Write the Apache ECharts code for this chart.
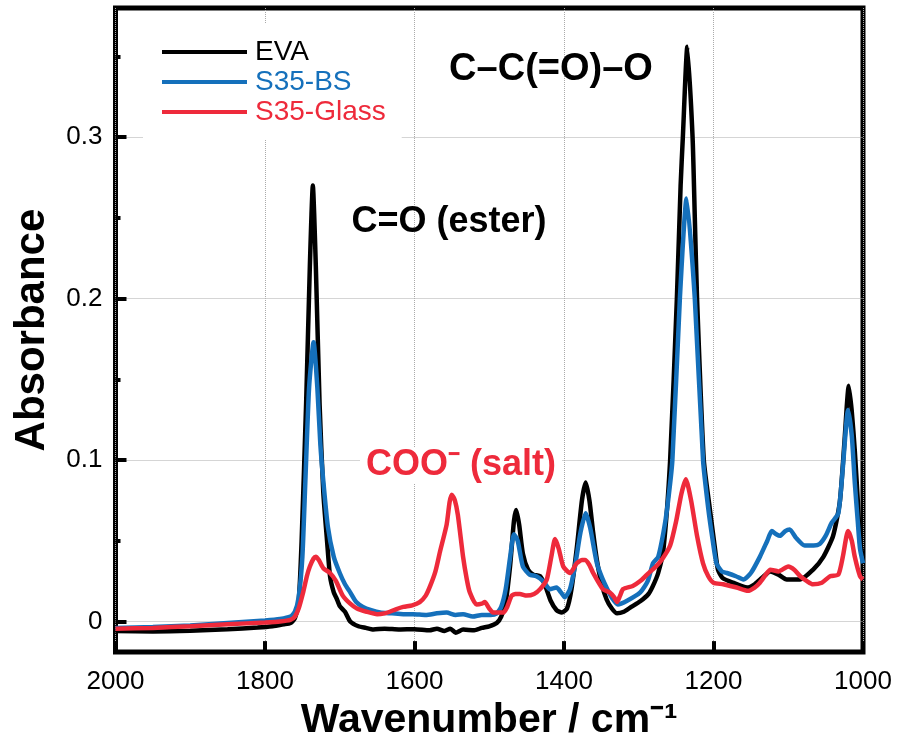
<!DOCTYPE html>
<html>
<head>
<meta charset="utf-8">
<script src="https://cdn.jsdelivr.net/npm/echarts@6/dist/echarts.min.js"></script>
<style>
  html, body { margin: 0; padding: 0; background: #fff; }
  #chart { width: 897px; height: 746px; }
</style>
</head>
<body>
<div id="chart"></div>
<script>
// FTIR spectra
const evaWn = [2000, 1950, 1900, 1850, 1810, 1790, 1775, 1766, 1760, 1755, 1751, 1745, 1740, 1736, 1732, 1727, 1722, 1717, 1713, 1708, 1704, 1700, 1693, 1686, 1675, 1665, 1655, 1640, 1620, 1600, 1580, 1570, 1560, 1552, 1545, 1535, 1520, 1510, 1500, 1490, 1484, 1478, 1472, 1467, 1464, 1460, 1455, 1448, 1441, 1432, 1425, 1418, 1410, 1403, 1396, 1390, 1383, 1376, 1371, 1366, 1361, 1356, 1350, 1343, 1336, 1329, 1320, 1310, 1298, 1287, 1281, 1274, 1267, 1258, 1249, 1244, 1241, 1235, 1228, 1225, 1222, 1213, 1205, 1198, 1194, 1188, 1174, 1155, 1145, 1135, 1124, 1113, 1102, 1084, 1067, 1053, 1040, 1031, 1025, 1019, 1015, 1011, 1007, 1004, 1000];
const evaAbs = [-0.006, -0.0062, -0.0058, -0.0048, -0.0038, -0.003, -0.0018, -0.001, 0.002, 0.012, 0.05, 0.135, 0.22, 0.270, 0.22, 0.135, 0.08, 0.05, 0.028, 0.018, 0.014, 0.0095, 0.006, 0.0, -0.003, -0.004, -0.005, -0.0045, -0.005, -0.0048, -0.0055, -0.0045, -0.006, -0.0045, -0.007, -0.005, -0.0055, -0.004, -0.003, -0.001, 0.003, 0.012, 0.035, 0.062, 0.069, 0.060, 0.042, 0.032, 0.029, 0.028, 0.022, 0.013, 0.007, 0.0055, 0.008, 0.02, 0.045, 0.075, 0.086, 0.075, 0.055, 0.038, 0.024, 0.0136, 0.008, 0.005, 0.006, 0.009, 0.0125, 0.017, 0.022, 0.030, 0.0445, 0.1, 0.2, 0.27, 0.3, 0.356, 0.3, 0.25, 0.2, 0.1, 0.07, 0.045, 0.032, 0.027, 0.024, 0.021, 0.023, 0.027, 0.031, 0.029, 0.026, 0.026, 0.032, 0.040, 0.053, 0.074, 0.11, 0.146, 0.13, 0.106, 0.075, 0.049, 0.04];

const bsWn = [2000, 1950, 1900, 1850, 1800, 1780, 1766, 1760, 1755, 1750, 1746, 1741, 1735, 1730, 1726, 1722, 1716, 1708, 1700, 1693, 1686, 1678, 1669, 1658, 1646, 1630, 1615, 1602, 1585, 1570, 1557, 1545, 1535, 1522, 1510, 1498, 1490, 1484, 1478, 1472, 1467, 1462, 1455, 1446, 1437, 1428, 1419, 1410, 1404, 1399, 1392, 1385, 1378, 1371, 1365, 1356, 1349, 1342, 1335, 1328, 1315, 1298, 1288, 1281, 1274, 1267, 1262, 1255, 1245, 1236, 1225, 1214, 1207, 1201, 1196, 1189, 1182, 1170, 1160, 1150, 1138, 1128, 1122, 1116, 1111, 1104, 1098, 1090, 1078, 1066, 1058, 1050, 1042, 1033, 1027, 1020, 1015, 1011, 1007, 1004, 1000];
const bsAbs = [-0.004, -0.0035, -0.0025, -0.001, 0.0006, 0.0015, 0.003, 0.006, 0.015, 0.04, 0.087, 0.145, 0.173, 0.145, 0.11, 0.087, 0.059, 0.04, 0.030, 0.023, 0.018, 0.012, 0.009, 0.007, 0.0055, 0.005, 0.0045, 0.0045, 0.004, 0.005, 0.0055, 0.004, 0.0045, 0.003, 0.004, 0.004, 0.005, 0.009, 0.02, 0.04, 0.054, 0.05, 0.034, 0.029, 0.028, 0.025, 0.020, 0.021, 0.018, 0.015, 0.02, 0.035, 0.055, 0.067, 0.058, 0.036, 0.027, 0.020, 0.014, 0.0105, 0.013, 0.018, 0.025, 0.036, 0.040, 0.055, 0.07, 0.1, 0.2, 0.262, 0.2, 0.1, 0.07, 0.05, 0.036, 0.031, 0.030, 0.028, 0.026, 0.030, 0.040, 0.05, 0.056, 0.054, 0.053, 0.056, 0.057, 0.052, 0.047, 0.047, 0.048, 0.053, 0.061, 0.067, 0.095, 0.131, 0.115, 0.086, 0.062, 0.045, 0.036];

const glassWn = [2000, 1950, 1900, 1850, 1800, 1780, 1766, 1760, 1755, 1749, 1744, 1740, 1735, 1732, 1728, 1722, 1713, 1705, 1696, 1686, 1677, 1664, 1650, 1640, 1633, 1625, 1615, 1603, 1593, 1585, 1579, 1572, 1566, 1557, 1553, 1550, 1546, 1542, 1535, 1530, 1526, 1517, 1510, 1506, 1500, 1495, 1481, 1476, 1470, 1465, 1459, 1450, 1440, 1432, 1423, 1417, 1412, 1407, 1401, 1392, 1383, 1376, 1372, 1366, 1361, 1348, 1339, 1333, 1329, 1325, 1321, 1308, 1298, 1289, 1277, 1268, 1258, 1250, 1243, 1237, 1230, 1222, 1214, 1207, 1200, 1187, 1169, 1154, 1145, 1138, 1130, 1124, 1113, 1100, 1092, 1084, 1075, 1067, 1055, 1044, 1033, 1027, 1020, 1015, 1011, 1004, 1000];
const glassAbs = [-0.0045, -0.004, -0.003, -0.0018, -0.0006, 0.0, 0.001, 0.003, 0.008, 0.018, 0.028, 0.034, 0.039, 0.040, 0.038, 0.033, 0.030, 0.025, 0.016, 0.011, 0.008, 0.006, 0.0045, 0.005, 0.006, 0.0075, 0.009, 0.010, 0.012, 0.016, 0.022, 0.031, 0.043, 0.060, 0.074, 0.0785, 0.075, 0.066, 0.040, 0.026, 0.018, 0.0105, 0.011, 0.012, 0.008, 0.0055, 0.0055, 0.009, 0.016, 0.017, 0.017, 0.016, 0.017, 0.020, 0.026, 0.040, 0.051, 0.045, 0.034, 0.030, 0.036, 0.038, 0.038, 0.035, 0.030, 0.020, 0.018, 0.015, 0.012, 0.016, 0.020, 0.022, 0.025, 0.029, 0.034, 0.039, 0.047, 0.062, 0.079, 0.088, 0.075, 0.053, 0.036, 0.028, 0.024, 0.023, 0.021, 0.019, 0.021, 0.024, 0.029, 0.032, 0.031, 0.034, 0.032, 0.028, 0.025, 0.023, 0.024, 0.028, 0.029, 0.040, 0.056, 0.050, 0.040, 0.028, 0.026];

const seriesNames = ["EVA", "S35-BS", "S35-Glass"];
const seriesColors = ["#000000", "#1570bb", "#ee2a3b"];
const xTicks = [1200, 1400, 1600, 1800];
const yTicks = [0, 0.1, 0.2, 0.3];
const yMinorTicks = [0.05, 0.15, 0.25, 0.35];

const zip = (xs, ys) => xs.map((x, i) => [x, ys[i]]);
const spectra = [zip(evaWn, evaAbs), zip(bsWn, bsAbs), zip(glassWn, glassAbs)];

const font = "'Liberation Sans', Arial, Helvetica, sans-serif";
const xMin = 1000;
const xMax = 2000;
const yMin = -0.019;
const yMax = 0.38;

// inward major ticks as short segments in data space (~11 px long)
const tickLenY = (yMax - yMin) * 11 / 644.5;
const tickLenX = (xMax - xMin) * 11 / 747.5;
const tickSegments = [].concat(
  xTicks.map((v) => [{ coord: [v, yMin + tickLenY * 0.1] }, { coord: [v, yMin + tickLenY] }]),
  yTicks.map((v) => [{ coord: [xMax - tickLenX * 0.1, v] }, { coord: [xMax - tickLenX, v] }])
);

const option = {
  backgroundColor: "#fff",
  animation: false,
  textStyle: { fontFamily: font },
  grid: {
    left: 115.5,
    right: 34,
    top: 8,
    bottom: 93.5,
    show: true,
    borderColor: "#000",
    borderWidth: 5
  },
  legend: {
    orient: "vertical",
    left: 143,
    top: 23,
    padding: [15, 16, 13, 19],
    backgroundColor: "#fff",
    icon: "rect",
    itemWidth: 85,
    itemHeight: 4,
    itemGap: 2,
    z: 10,
    textStyle: { fontSize: 28, lineHeight: 28, fontFamily: font, padding: [0, 0, 0, 3] },
    data: seriesNames.map((n, i) => ({ name: n, textStyle: { color: seriesColors[i] } }))
  },
  xAxis: {
    type: "value",
    inverse: true,
    min: xMin,
    max: xMax,
    interval: 200,
    position: "bottom",
    name: "Wavenumber / cm\u207B\u00B9",
    nameLocation: "middle",
    nameGap: 47,
    nameTextStyle: { fontSize: 41, fontWeight: "bold", color: "#000", fontFamily: font },
    axisLine: { show: false, onZero: false },
    axisTick: { show: true, inside: true, length: 10, lineStyle: { color: "#000", width: 4 } },
    axisLabel: { fontSize: 26, color: "#000", margin: 17, fontFamily: font, formatter: (v) => String(v) },
    splitLine: { show: true, lineStyle: { color: "#aaa", type: "dotted", width: 1 } }
  },
  yAxis: [
    {
      type: "value",
      min: yMin,
      max: yMax,
      name: "Absorbance",
      nameLocation: "middle",
      nameGap: 62,
      nameTextStyle: { fontSize: 42, fontWeight: "bold", color: "#000", fontFamily: font },
      axisLine: { show: false, onZero: false },
      axisTick: { show: true, inside: true, length: 10, customValues: yTicks, lineStyle: { color: "#000", width: 4 } },
      axisLabel: { customValues: yTicks, fontSize: 26, color: "#000", margin: 13, fontFamily: font },
      splitLine: { show: true, lineStyle: { color: "#aaa", type: "dotted", width: 1 } }
    },
    {
      type: "value",
      min: yMin,
      max: yMax,
      position: "left",
      axisLine: { show: false, onZero: false },
      axisTick: { show: true, inside: true, length: 5, customValues: yMinorTicks, lineStyle: { color: "#000", width: 4 } },
      axisLabel: { show: false },
      splitLine: { show: false }
    }
  ],
  graphic: [
    {
      type: "text", x: 551, y: 70, z: 20,
      style: { text: "C\u2013C(=O)\u2013O", fill: "#000", font: "bold 38px " + font, align: "center", verticalAlign: "middle" }
    },
    {
      type: "text", x: 449, y: 222, z: 20,
      style: { text: "C=O (ester)", fill: "#000", font: "bold 36px " + font, align: "center", verticalAlign: "middle" }
    },
    {
      type: "text", x: 461, y: 465, z: 20,
      style: {
        text: "COO\u207B (salt)", fill: "#ee2a3b", font: "bold 36px " + font, align: "center", verticalAlign: "middle",
        backgroundColor: "#fff", padding: [0, 6]
      }
    }
  ],
  series: spectra.map((d, i) => {
    const s = {
      name: seriesNames[i],
      type: "line",
      data: d,
      showSymbol: false,
      smooth: 0.2,
      color: seriesColors[i],
      lineStyle: { width: 4.5, color: seriesColors[i] },
      z: 2 + i
    };
    if (i === 0) {
      s.markLine = {
        silent: true,
        symbol: ["none", "none"],
        label: { show: false },
        lineStyle: { color: "#000", width: 4, type: "solid" },
        data: tickSegments
      };
    }
    return s;
  })
};

const myChart = echarts.init(document.getElementById("chart"), null, { renderer: "canvas" });
myChart.setOption(option);
</script>
</body>
</html>
